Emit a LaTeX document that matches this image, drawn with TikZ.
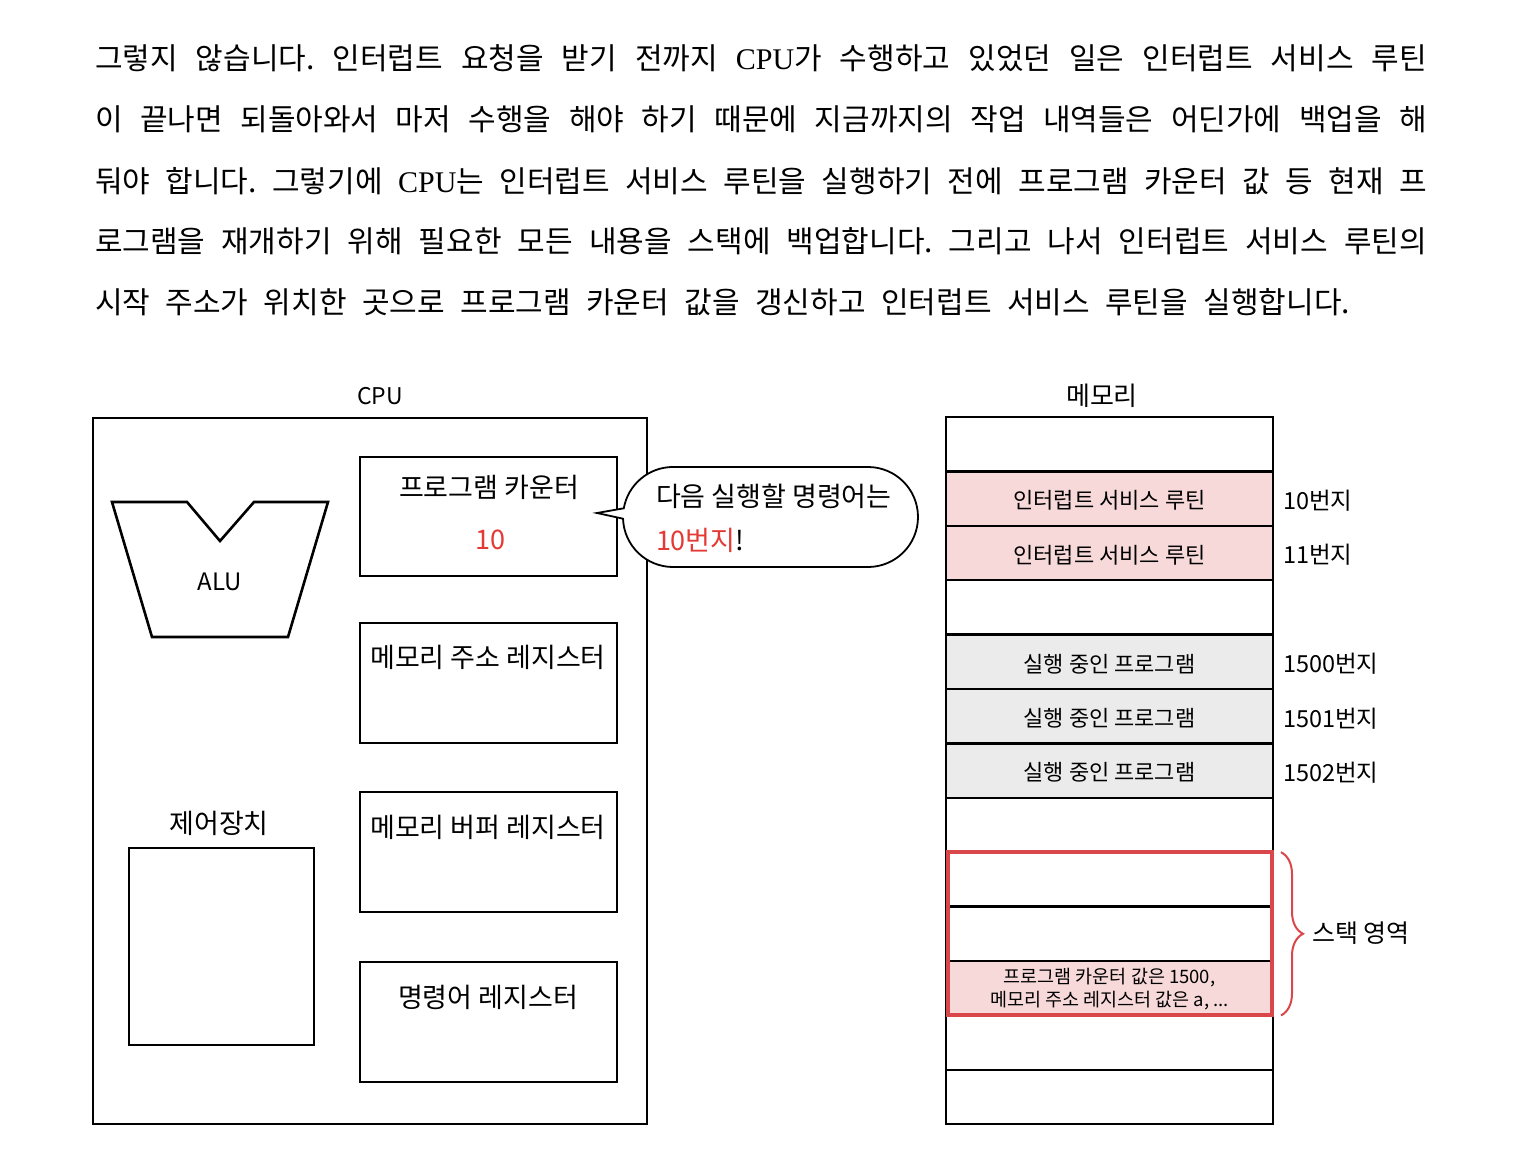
\documentclass[tikz,border=0pt]{standalone}
\usepackage{fontspec}
\setmainfont{Noto Sans CJK KR}
\newfontfamily\serifl{Liberation Serif}
\usetikzlibrary{decorations.pathreplacing}
\definecolor{pinkfill}{HTML}{F8D9DA}
\definecolor{grayfill}{HTML}{EBEBEB}
\definecolor{stackred}{HTML}{D9474A}
\definecolor{txtred}{HTML}{E53935}
\newcommand{\fs}[1]{\fontsize{#1pt}{#1pt}\selectfont}
\frenchspacing
\begin{document}
\begin{tikzpicture}[x=1pt, y=-1pt,
  every node/.style={inner sep=0pt, outer sep=0pt},
  para/.style={anchor=base west, font=\fs{30}},
  regbox/.style={draw, line width=2.8pt, fill=white, minimum width=257pt, minimum height=119pt, anchor=north west},
  regtxt/.style={font=\fs{27}},
  memrow/.style={draw, line width=2.4pt, minimum width=327pt, minimum height=54.4pt},
  memtxt/.style={font=\fs{22}},
  addr/.style={anchor=west, font=\fs{23.5}}]
\useasboundingbox (0,0) rectangle (1524,1174);
\fill[white] (0,0) rectangle (1524,1174);

% paragraph
\node[para] (p1) at (95,70) {\makebox[1332pt][s]{그렇지 않습니다. 인터럽트 요청을 받기 전까지 {\serifl CPU}가 수행하고 있었던 일은 인터럽트 서비스 루틴}};
\node[para] (p2) at (95,131) {\makebox[1332pt][s]{이 끝나면 되돌아와서 마저 수행을 해야 하기 때문에 지금까지의 작업 내역들은 어딘가에 백업을 해}};
\node[para] (p3) at (95,193) {\makebox[1332pt][s]{둬야 합니다. 그렇기에 {\serifl CPU}는 인터럽트 서비스 루틴을 실행하기 전에 프로그램 카운터 값 등 현재 프}};
\node[para] (p4) at (95,253) {\makebox[1332pt][s]{로그램을 재개하기 위해 필요한 모든 내용을 스택에 백업합니다. 그리고 나서 인터럽트 서비스 루틴의}};
\node[para] (p5) at (95,314) {\makebox[1255pt][s]{시작 주소가 위치한 곳으로 프로그램 카운터 값을 갱신하고 인터럽트 서비스 루틴을 실행합니다.}};

% CPU
\node[font=\fs{23}] (cpulbl) at (380,396) {CPU};
\node[draw, line width=2pt, minimum width=554pt, minimum height=706pt, anchor=north west] (cpu) at (93,418) {};

% ALU
\draw[line width=2.6pt, line join=miter] (112,502) -- (187,502) -- (220,541) -- (254,502) -- (328,502) -- (288,637) -- (152,637) -- cycle;
\node[font=\fs{24}] (alu) at (220,582) {ALU};

% control unit
\node[font=\fs{27}] (culbl) at (219,823) {제어장치};
\node[draw, line width=2.8pt, minimum width=185pt, minimum height=197pt, anchor=north west] (cu) at (129,848) {};

% registers
\node[regbox] (pc) at (360,457) {};
\node[regtxt] (pctxt) at (489,487) {프로그램 카운터};
\node[regtxt, text=txtred] (pcval) at (490,540) {10};
\node[regbox, minimum height=120pt] (mar) at (360,623) {};
\node[regtxt] (martxt) at (488,657) {메모리 주소 레지스터};
\node[regbox, minimum height=120pt] (mbr) at (360,792) {};
\node[regtxt] (mbrtxt) at (488,827) {메모리 버퍼 레지스터};
\node[regbox, minimum height=120pt] (ir) at (360,962) {};
\node[regtxt] (irtxt) at (488,997) {명령어 레지스터};

% speech bubble
\draw[line width=1.8pt, fill=white, line join=miter]
  (623.0,518.7) -- (597,513) -- (623.8,508.3)
  arc[start angle=190, end angle=270, radius=50] -- (868,467)
  arc[start angle=270, end angle=450, radius=50] -- (673,567)
  arc[start angle=90, end angle=178, radius=50] -- cycle;
\node[anchor=west, font=\fs{27}] (b1) at (656,496) {다음 실행할 명령어는};
\node[anchor=west, font=\fs{27}] (b2) at (656,540) {{\color{txtred}10번지}!};

% memory
\node[font=\fs{26}] (memlbl) at (1102,396) {메모리};
\foreach \i/\c in {1/white,2/pinkfill,3/pinkfill,4/white,5/grayfill,6/grayfill,7/grayfill,8/white,9/white,10/white,11/pinkfill,12/white,13/white}
  \node[memrow, fill=\c] (m\i) at (1109.5,{417+54.4*(\i-0.5)}) {};
\node[memtxt] (t2) at ([yshift=-2pt]m2) {인터럽트 서비스 루틴};
\node[memtxt] (t3) at ([yshift=-2pt]m3) {인터럽트 서비스 루틴};
\node[memtxt] (t5) at ([yshift=-2pt]m5) {실행 중인 프로그램};
\node[memtxt] (t6) at ([yshift=-2pt]m6) {실행 중인 프로그램};
\node[memtxt] (t7) at ([yshift=-2pt]m7) {실행 중인 프로그램};
\node[font=\fs{18.5}, align=center] (t11) at ([yshift=-1pt]m11) {프로그램 카운터 값은 1500,\\[3pt]메모리 주소 레지스터 값은 a, ...};
\draw[stackred, line width=4pt] ([xshift=1.5pt]m9.north west) rectangle ([xshift=-1.5pt]m11.south east);

\node[addr] (a2) at ([xshift=10pt,yshift=-2pt]m2.east) {10번지};
\node[addr] (a3) at ([xshift=10pt,yshift=-2pt]m3.east) {11번지};
\node[addr] (a5) at ([xshift=10pt,yshift=-2pt]m5.east) {1500번지};
\node[addr] (a6) at ([xshift=10pt,yshift=-2pt]m6.east) {1501번지};
\node[addr] (a7) at ([xshift=10pt,yshift=-2pt]m7.east) {1502번지};

% stack brace
\coordinate (bs) at ([xshift=8pt]m9.north east);
\coordinate (be) at ([xshift=8pt]m11.south east);
\draw[stackred, line width=2pt, decorate, decoration={brace, amplitude=22pt}] (bs) -- (be);
\node[anchor=west, font=\fs{25}] (stk) at (1312,933) {스택 영역};
\end{tikzpicture}
\end{document}
